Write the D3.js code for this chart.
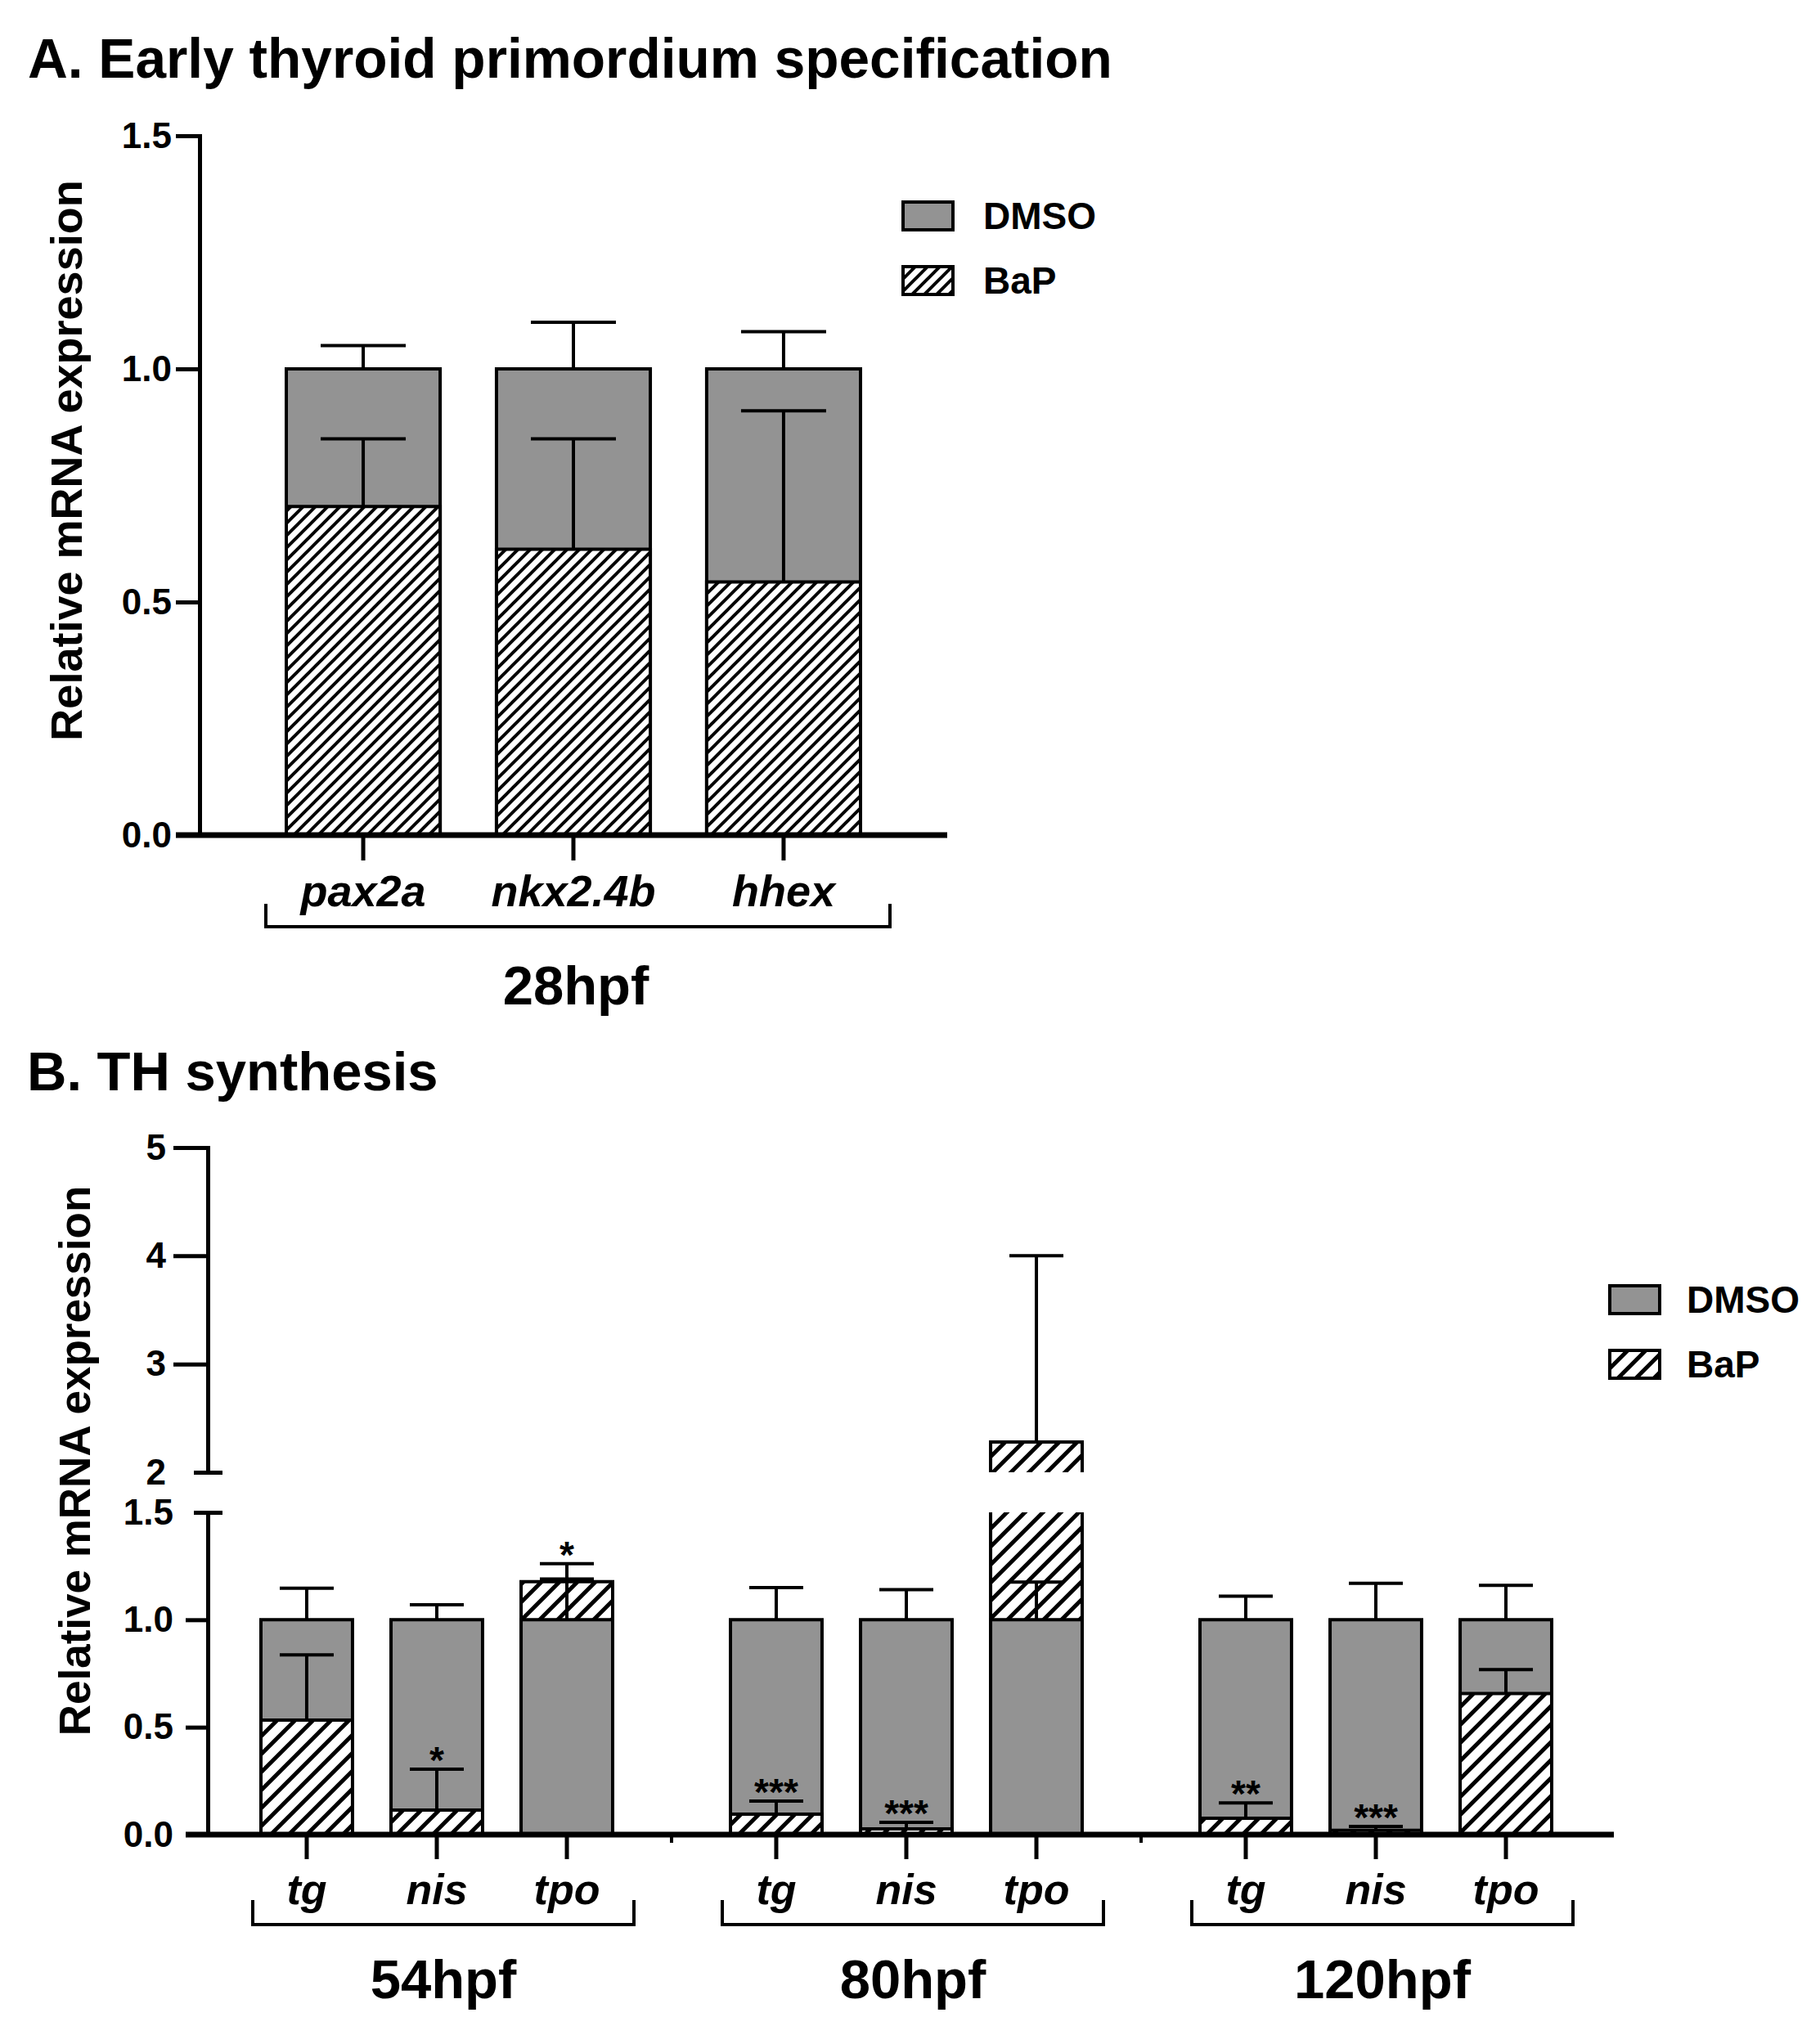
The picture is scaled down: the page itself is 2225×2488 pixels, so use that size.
<!DOCTYPE html>
<html>
<head>
<meta charset="utf-8">
<script src="https://cdn.jsdelivr.net/npm/d3@7"></script>
<style>
  html, body { margin: 0; padding: 0; background: #fff; }
</style>
</head>
<body>
<svg id="fig" width="2225" height="2488"></svg>
<script>
// ---- panel A data (28hpf) ----
const genesA = ["pax2a", "nkx2.4b", "hhex"];
const dmsoA = [1.0, 1.0, 1.0];
const dmsoErrA = [1.05, 1.10, 1.08];   // top of error bar
const bapA = [0.705, 0.613, 0.543];
const bapErrA = [0.85, 0.85, 0.91];
const yTicksA = [0, 0.5, 1.0, 1.5];

// ---- panel B data ----
const groupsB = ["54hpf", "80hpf", "120hpf"];
const genesB = ["tg", "nis", "tpo"];
const dmsoB = [[1, 1, 1], [1, 1, 1], [1, 1, 1]];
const dmsoErrB = [[1.147, 1.07, 1.19], [1.15, 1.14, 1.175], [1.11, 1.17, 1.16]];
const bapB = [[0.533, 0.114, 1.177], [0.095, 0.027, 2.28], [0.076, 0.02, 0.657]];
const bapErrB = [[0.837, 0.305, 1.261], [0.156, 0.057, 4.0], [0.148, 0.038, 0.768]];
const sigB = [["", "*", "*"], ["***", "***", ""], ["**", "***", ""]];
const yTicksLow = [0, 0.5, 1.0, 1.5];
const yTicksHigh = [2, 3, 4, 5];

const legendItems = ["DMSO", "BaP"];

const FONT = '"Liberation Sans", Arial, Helvetica, sans-serif';
const GRAY = "#939393";

const svg = d3.select("#fig");
const defs = svg.append("defs");

function hatch(id, s, w) {
  const p = defs.append("pattern")
    .attr("id", id)
    .attr("patternUnits", "userSpaceOnUse")
    .attr("width", s).attr("height", s);
  p.append("rect").attr("width", s).attr("height", s).attr("fill", "#fff");
  p.append("path")
    .attr("d", `M${-s / 2},${s / 2}L${s / 2},${-s / 2}M0,${s}L${s},0M${s / 2},${1.5 * s}L${1.5 * s},${s / 2}`)
    .attr("stroke", "#000").attr("stroke-width", w);
}
hatch("hatchA", 15, 4);
hatch("hatchB", 22, 5);

const fillOf = (key, pat) => key === "DMSO" ? GRAY : `url(#${pat})`;

// split a bar into the pieces that fall on each axis segment
function pieces(v, segs) {
  const out = [];
  segs.forEach(([lo, hi, y]) => {
    if (v > lo) out.push({ a: lo, b: Math.min(v, hi), y, top: v <= hi });
  });
  return out;
}
function yAt(v, segs) {
  const s = segs.find(([lo, hi]) => v >= lo && v <= hi) || segs[segs.length - 1];
  return s[2](v);
}

function drawBar(g, x0, w, d, segs, pat, sw) {
  pieces(d.v, segs).forEach(p => {
    const ya = p.y(p.a), yb = p.y(p.b), xr = x0 + w;
    g.append("rect")
      .attr("x", x0).attr("y", yb)
      .attr("width", w).attr("height", ya - yb)
      .attr("fill", fillOf(d.key, pat));
    let dd = p.top ? `M${x0},${ya}V${yb}H${xr}V${ya}` : `M${x0},${ya}V${yb}M${xr},${yb}V${ya}`;
    if (p.a === 0) dd += `M${x0},${ya}H${xr}`;
    g.append("path").attr("d", dd)
      .attr("fill", "none").attr("stroke", "#000")
      .attr("stroke-width", sw).attr("stroke-linejoin", "miter");
  });
}

function drawErr(g, cx, capW, d, segs, sw) {
  const y1 = yAt(d.v, segs), y2 = yAt(d.e, segs);
  g.append("path")
    .attr("d", `M${cx},${y1}V${y2}M${cx - capW / 2},${y2}H${cx + capW / 2}`)
    .attr("fill", "none").attr("stroke", "#000").attr("stroke-width", sw);
}

// larger bar behind, smaller in front
function drawPair(g, x0, w, bars, segs, pat, capW) {
  bars.slice().sort((a, b) => b.v - a.v).forEach(d => {
    drawBar(g, x0, w, d, segs, pat, 4);
    drawErr(g, x0 + w / 2, capW, d, segs, 4);
  });
}

function styleAxis(ax, size) {
  ax.attr("font-family", FONT).attr("font-size", size).attr("font-weight", "bold");
  ax.select(".domain").attr("stroke-width", 5).attr("stroke-linecap", "square");
  ax.selectAll(".tick line").attr("stroke-width", 5);
  ax.selectAll(".tick text").attr("fill", "#000");
}

function legend(g, x, y, pat, textDx) {
  const it = g.selectAll("g.leg").data(legendItems).join("g")
    .attr("class", "leg")
    .attr("transform", (d, i) => `translate(${x},${y + i * 79})`);
  it.append("rect")
    .attr("x", 0).attr("y", 0).attr("width", 61).attr("height", 34)
    .attr("fill", d => fillOf(d, pat))
    .attr("stroke", "#000").attr("stroke-width", 4);
  it.append("text")
    .attr("x", textDx).attr("y", 33)
    .attr("font-family", FONT).attr("font-weight", "bold").attr("font-size", 46)
    .text(d => d);
}

function text(g, x, y, str, size, opts = {}) {
  return g.append("text")
    .attr("x", x).attr("y", y)
    .attr("font-family", FONT).attr("font-weight", "bold")
    .attr("font-size", size)
    .attr("text-anchor", opts.anchor || "start")
    .attr("font-style", opts.italic ? "italic" : "normal")
    .text(str);
}

// ================= Panel A =================
const gA = svg.append("g");
const xA = d3.scaleBand().domain(genesA).range([350, 1052]).paddingInner(0.268).paddingOuter(0);
const yA = d3.scaleLinear().domain([0, 1.5]).range([1021, 166]);
const segsA = [[0, 1.5, yA]];

text(gA, 34, 95, "A. Early thyroid primordium specification", 67.6);

genesA.forEach((gene, i) => {
  drawPair(gA, xA(gene), xA.bandwidth(), [
    { key: "DMSO", v: dmsoA[i], e: dmsoErrA[i] },
    { key: "BaP", v: bapA[i], e: bapErrA[i] }
  ], segsA, "hatchA", 104);
});

const axYA = gA.append("g").attr("transform", "translate(244,0)")
  .call(d3.axisLeft(yA).tickValues(yTicksA).tickFormat(d3.format(".1f"))
    .tickSize(29).tickSizeOuter(0).tickPadding(5));
styleAxis(axYA, 44);

gA.append("line").attr("x1", 215).attr("x2", 1158).attr("y1", yA(0)).attr("y2", yA(0))
  .attr("stroke", "#000").attr("stroke-width", 7);

const axXA = gA.append("g").attr("transform", `translate(0,${yA(0)})`)
  .call(d3.axisBottom(xA).tickSize(31).tickSizeOuter(0).tickPadding(18));
axXA.select(".domain").remove();
styleAxis(axXA, 54);
axXA.selectAll(".tick text").attr("font-style", "italic");

gA.append("path").attr("d", "M325,1105V1133H1088V1105")
  .attr("fill", "none").attr("stroke", "#000").attr("stroke-width", 4);
text(gA, 704, 1228, "28hpf", 67, { anchor: "middle" });

gA.append("text")
  .attr("transform", "translate(100,563) rotate(-90)")
  .attr("text-anchor", "middle")
  .attr("font-family", FONT).attr("font-weight", "bold").attr("font-size", 54)
  .text("Relative mRNA expression");

legend(gA, 1104, 247, "hatchA", 98);

// ================= Panel B =================
const gB = svg.append("g");
const x0B = d3.scaleBand().domain(groupsB).range([319, 319 + 574 * 3]).paddingInner(0).paddingOuter(0);
const x1B = d3.scaleBand().domain(genesB).range([0, 430]).paddingInner(0.296).paddingOuter(0);
const yLow = d3.scaleLinear().domain([0, 1.5]).range([2243, 1849]);
const yHigh = d3.scaleLinear().domain([2, 5]).range([1800, 1403]);
const segsB = [[0, 1.5, yLow], [2, 5, yHigh]];

text(gB, 33, 1333, "B. TH synthesis", 67);

groupsB.forEach((grp, gi) => {
  genesB.forEach((gene, i) => {
    const x = x0B(grp) + x1B(gene), w = x1B.bandwidth();
    drawPair(gB, x, w, [
      { key: "DMSO", v: dmsoB[gi][i], e: dmsoErrB[gi][i] },
      { key: "BaP", v: bapB[gi][i], e: bapErrB[gi][i] }
    ], segsB, "hatchB", 66);
    if (sigB[gi][i]) {
      text(gB, x + w / 2, yAt(bapErrB[gi][i], segsB) + 5, sigB[gi][i], 46, { anchor: "middle" });
    }
  });
});

// y axis, lower segment
const axLow = gB.append("g").attr("transform", "translate(254,0)")
  .call(d3.axisLeft(yLow).tickValues(yTicksLow).tickFormat(d3.format(".1f"))
    .tickSize(27).tickSizeOuter(0).tickPadding(15));
styleAxis(axLow, 44);
axLow.selectAll(".tick").filter(d => d === 1.5).select("line").attr("x1", 18).attr("x2", -17);

// y axis, upper segment
const axHigh = gB.append("g").attr("transform", "translate(254,0)")
  .call(d3.axisLeft(yHigh).tickValues(yTicksHigh).tickFormat(d3.format("d"))
    .tickSize(42).tickSizeOuter(0).tickPadding(9));
styleAxis(axHigh, 44);
axHigh.selectAll(".tick").filter(d => d === 2).select("line").attr("x1", 18).attr("x2", -17);

// x axis line
gB.append("line").attr("x1", 227).attr("x2", 1973).attr("y1", yLow(0)).attr("y2", yLow(0))
  .attr("stroke", "#000").attr("stroke-width", 7);

// small marks between groups
const gapX = groupsB.slice(1).map((grp, k) => {
  const prevEnd = x0B(groupsB[k]) + x1B(genesB[2]) + x1B.bandwidth();
  return (prevEnd + x0B(grp) + x1B(genesB[0])) / 2;
});
gB.selectAll("line.gap").data(gapX).join("line")
  .attr("class", "gap")
  .attr("x1", d => d).attr("x2", d => d)
  .attr("y1", yLow(0)).attr("y2", yLow(0) + 10)
  .attr("stroke", "#000").attr("stroke-width", 4);

groupsB.forEach(grp => {
  const ax = gB.append("g").attr("transform", `translate(${x0B(grp)},${yLow(0)})`)
    .call(d3.axisBottom(x1B).tickSize(30).tickSizeOuter(0).tickPadding(18));
  ax.select(".domain").remove();
  styleAxis(ax, 52);
  ax.selectAll(".tick text").attr("font-style", "italic");

  const c = x0B(grp) + 215 + 8;
  gB.append("path").attr("d", `M${c - 233},2323V2353H${c + 233}V2323`)
    .attr("fill", "none").attr("stroke", "#000").attr("stroke-width", 4);
  text(gB, c, 2443, grp, 67, { anchor: "middle" });
});

gB.append("text")
  .attr("transform", "translate(110,1786) rotate(-90)")
  .attr("text-anchor", "middle")
  .attr("font-family", FONT).attr("font-weight", "bold").attr("font-size", 53)
  .text("Relative mRNA expression");

legend(gB, 1968, 1572, "hatchB", 94);
</script>
</body>
</html>
